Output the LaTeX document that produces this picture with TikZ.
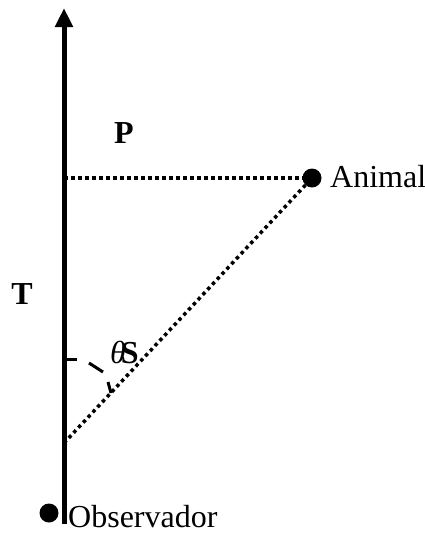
\documentclass[tikz,border=0pt]{standalone}
\usepackage{fontspec}
\setmainfont{Liberation Serif}
\usetikzlibrary{arrows.meta}
\begin{document}
\begin{tikzpicture}[x=1pt,y=-1pt,
  axis/.style={line width=5pt},
  dotline/.style={line width=3.5pt, dash pattern=on 3.5pt off 3.5pt},
  anglemark/.style={line width=3pt},
  blob/.style={circle, fill=black, minimum size=19pt, inner sep=0pt},
  lbl/.style={inner sep=0pt, font=\fontsize{32}{32}\selectfont}]
\useasboundingbox (0,0) rectangle (425,533);
\coordinate (base) at (64,524);
\coordinate (top) at (64,8);
\coordinate (foot) at (64,443);
\coordinate (proj) at (64,178);
\draw[axis, -{Triangle[length=19pt,width=17pt]}] (base) -- (top);
\node[blob] (animal) at (312,178) {};
\node[blob] (obs) at (49,513) {};
\draw[dotline] (proj) -- (animal.west);
\draw[dotline] (foot) -- (animal);
% angle mark
\draw[anglemark] (64,359) -- (77,359);
\draw[anglemark] (89,363) -- (103,372);
\draw[anglemark] (108,382) -- (111,393);
% labels
\node[lbl, anchor=base] (P) at (124,143) {\textbf{P}};
\node[lbl, anchor=base west] (animallbl) at (330,187) {Animal};
\node[lbl, anchor=base] (T) at (22,304) {\textbf{T}};
\node[lbl, anchor=base west] (theta) at (110,363) {\textit{θ}\kern-5pt\textbf{S}};
\node[lbl, anchor=base west] (obslbl) at (68,527) {Observador};
\end{tikzpicture}
\end{document}
